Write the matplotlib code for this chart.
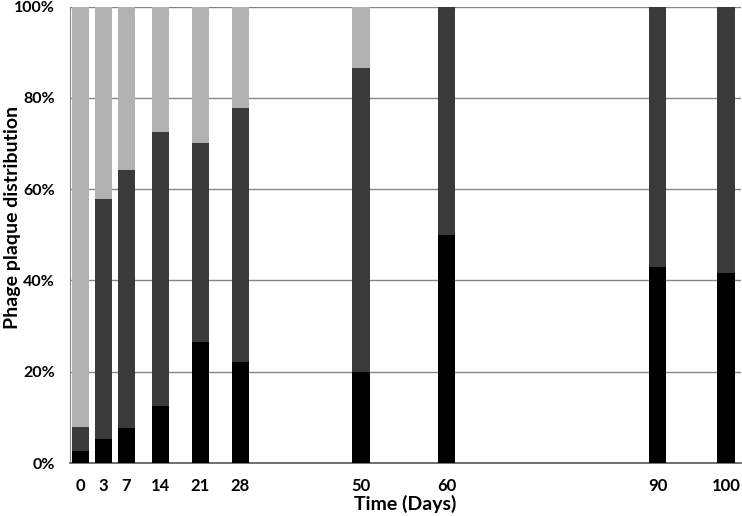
import numpy as np
import matplotlib
matplotlib.use("Agg")
import matplotlib.pyplot as plt

plt.rcParams['font.family'] = ['Lato', 'DejaVu Sans']

days = ['0', '3', '7', '14', '21', '28', '50', '60', '90', '100']
# horizontal slot of each day on the category axis (uneven, as in the original)
slots = [1.0, 2.0, 3.0, 4.5, 6.25, 8.0, 13.3, 17.05, 26.3, 29.3]

black = [2.7, 5.2, 7.6, 12.5, 26.5, 22.1, 20.0, 50.0, 43.0, 41.6]
dark = [5.2, 52.6, 56.5, 59.9, 43.5, 55.6, 66.5, 50.0, 57.0, 58.4]
light = [92.1, 42.2, 35.9, 27.6, 30.0, 22.3, 13.5, 0.0, 0.0, 0.0]

fig = plt.figure(figsize=(7.42, 5.16), dpi=100)
ax = fig.add_axes([0.0943, 0.1027, 0.9044, 0.8847])

x = np.array(slots)
b = np.array(black)
d = np.array(dark)
l = np.array(light)
w = 0.75
ax.bar(x, b, width=w, color='#000000', zorder=3)
ax.bar(x, d, width=w, bottom=b, color='#3a3a3a', zorder=3)
ax.bar(x, l, width=w, bottom=b + d, color='#b2b2b2', zorder=3)

ax.set_xlim(0.54, 29.96)
ax.set_ylim(0, 100)
ax.set_yticks(np.arange(0, 101, 20))
ax.set_yticklabels([f'{v}%' for v in range(0, 101, 20)])
ax.set_xticks(x)
ax.set_xticklabels(days)
ax.yaxis.grid(True, color='#868686', linewidth=1.0, zorder=0)
ax.tick_params(length=0, labelsize=12)
ax.tick_params(axis='y', pad=11, labelsize=11.5)
ax.tick_params(axis='x', pad=11)
for lab in ax.get_xticklabels() + ax.get_yticklabels():
    lab.set_fontweight('bold')

ax.spines['top'].set_visible(False)
ax.spines['right'].set_visible(False)
ax.spines['left'].set_color('#868686')
ax.spines['bottom'].set_color('#595959')
ax.spines['bottom'].set_linewidth(1.2)

ax.set_xlabel('Time (Days)', fontsize=14, fontweight='bold')
ax.xaxis.set_label_coords(0.5, -0.07)
ax.set_ylabel('Phage plaque distribution', fontsize=14, fontweight='bold')
ax.yaxis.set_label_coords(-0.073, 0.537)

fig.savefig('out.png', dpi=100)
